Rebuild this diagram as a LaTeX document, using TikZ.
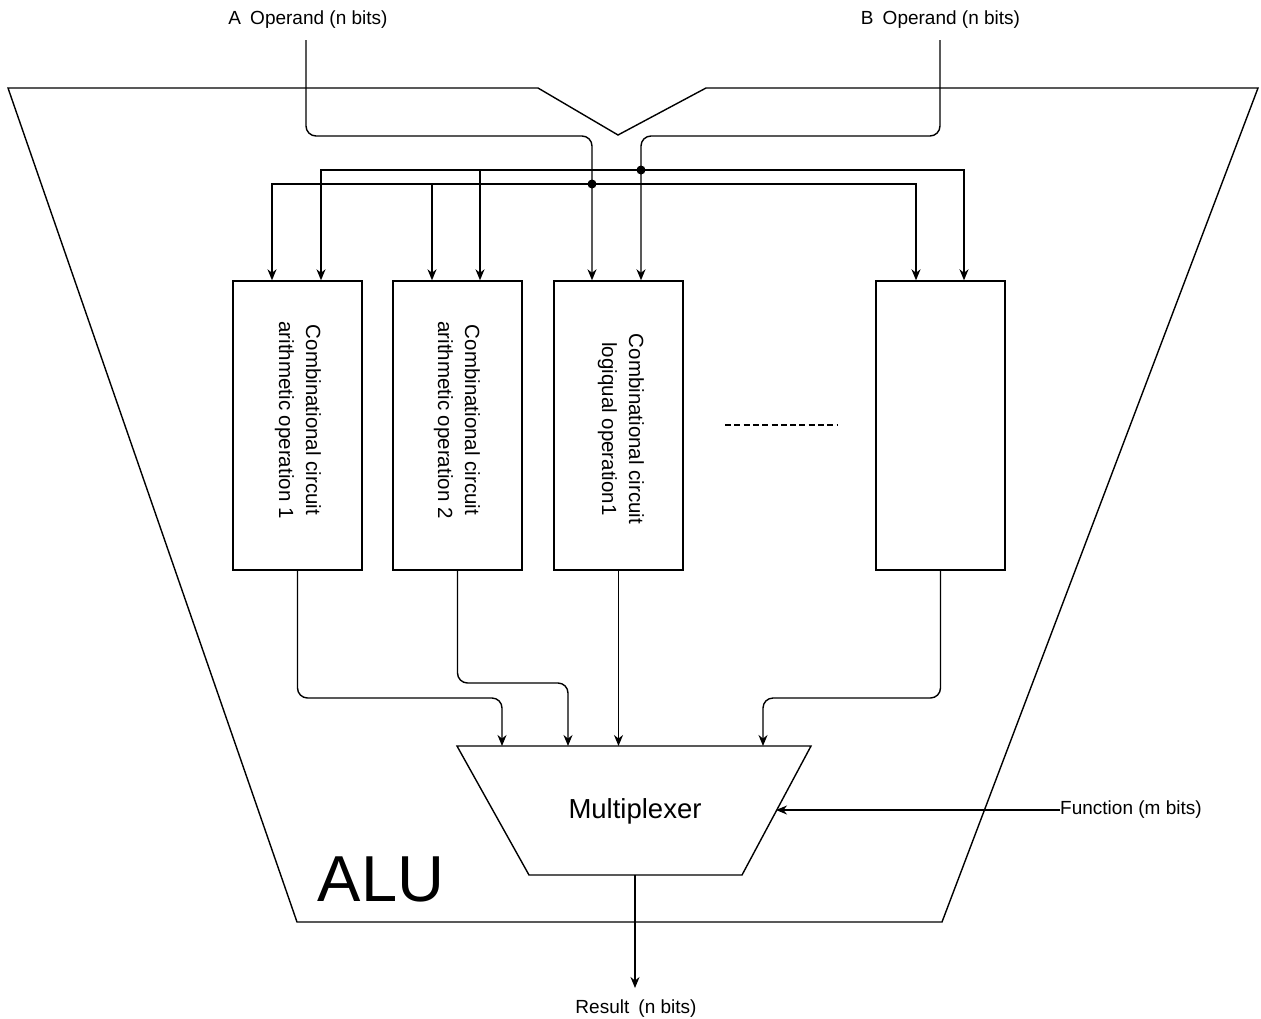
\documentclass[tikz,border=0pt]{standalone}
\usepackage{fontspec}
\setmainfont{Liberation Sans}
\usetikzlibrary{arrows.meta}
\tikzset{
  wire/.style={line width=1.4pt, draw=black},
  arr/.style={wire, -{Stealth[length=11pt,width=9pt,inset=3.5pt]}},
  opbox/.style={draw, line width=1.4pt, minimum width=129pt, minimum height=289pt, inner sep=0pt},
  lbl/.style={font=\fontsize{19}{23}\selectfont, inner sep=0pt},
  boxtxt/.style={rotate=-90, align=center, font=\fontsize{20.5}{27}\selectfont, inner sep=0pt},
  jdot/.style={circle, fill=black, minimum size=9pt, inner sep=0pt},
}
\begin{document}
\begin{tikzpicture}[x=1pt,y=-1pt]
\useasboundingbox (0,0) rectangle (1261,1018);

% ALU outline
\draw[wire, line join=miter] (8,88) -- (538,88) -- (618,135) -- (706,88) -- (1258,88) -- (942,922) -- (297,922) -- cycle;
\node[font=\fontsize{65}{78}\selectfont, inner sep=0pt] (alu) at (381,879) {ALU};

% operand labels
\node[lbl] (opA) at (308,20) {A\hspace{0.48em}Operand (n bits)};
\node[lbl] (opB) at (940.5,20) {B\hspace{0.48em}Operand (n bits)};
\coordinate (aIn) at (306,40);
\coordinate (bIn) at (940,40);

% operation boxes
\node[opbox] (c1) at (297.5,425.5) {};
\node[opbox] (c2) at (457.5,425.5) {};
\node[opbox] (c3) at (618.5,425.5) {};
\node[opbox] (c4) at (940.5,425.5) {};
\node[boxtxt] (t1) at (298,420) {Combinational circuit\\arithmetic operation 1};
\node[boxtxt] (t2) at (457,420) {Combinational circuit\\arithmetic operation 2};
\node[boxtxt] (t3) at (621,429) {Combinational circuit\\logiqual operation1};

% dashed ellipsis
\coordinate (dsA) at (725,425);
\coordinate (dsB) at (837,425);
\draw[line width=1.4pt, dash pattern=on 6pt off 3.3pt] (dsA) -- (dsB);

% junctions
\node[jdot] (jA) at (592,184) {};
\node[jdot] (jB) at (641,170) {};

% A operand path
\draw[arr, rounded corners=10pt] (aIn) -- (306,136) -- (592,136) -- (592,0 |- c3.north);
% B operand path
\draw[arr, rounded corners=10pt] (bIn) -- (940,136) -- (641,136) -- (641,0 |- c3.north);

% A bus
\draw[arr] (jA.center) -| (272,0 |- c1.north);
\draw[arr] (jA.center) -| (916,0 |- c4.north);
\draw[arr] (432,0 |- jA) -- (432,0 |- c2.north);
% B bus
\draw[arr] (jB.center) -| (321,0 |- c1.north);
\draw[arr] (jB.center) -| (964,0 |- c4.north);
\draw[arr] (480,0 |- jB) -- (480,0 |- c2.north);

% multiplexer
\draw[wire, line join=miter] (457,746) -- (811,746) -- (742,875) -- (529,875) -- cycle;
\node[font=\fontsize{27.5}{31}\selectfont, inner sep=0pt] (mux) at (635,811) {Multiplexer};
\coordinate (muxB) at (635,875);
\coordinate (muxR) at (776,810);

% outputs to mux
\draw[arr, rounded corners=10pt] (c1.south) -- (297.5,698) -- (502,698) -- (502,746);
\draw[arr, rounded corners=10pt] (c2.south) -- (457.5,683) -- (568,683) -- (568,746);
\draw[arr] (c3.south) -- (618.5,746);
\draw[arr, rounded corners=10pt] (c4.south) -- (940.5,698) -- (763,698) -- (763,746);

% function
\node[lbl, anchor=west] (fun) at (1060,810) {Function (m bits)};
\draw[arr] (fun.west) -- (muxR);

% result
\node[lbl] (res) at (636,1009) {Result\hspace{0.48em}(n bits)};
\coordinate (resEnd) at (635,988);
\draw[arr] (muxB) -- (resEnd);
\end{tikzpicture}
\end{document}
